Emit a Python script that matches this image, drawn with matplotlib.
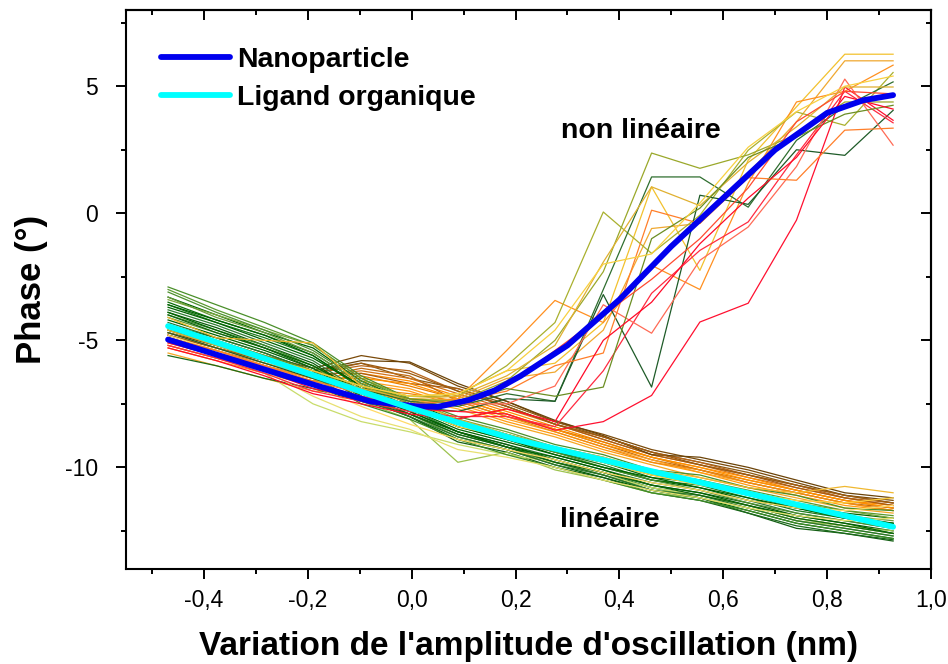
import numpy as np
import matplotlib.pyplot as plt
from matplotlib.ticker import MultipleLocator, FuncFormatter, NullFormatter

plt.rcParams['font.family'] = ['Liberation Sans', 'DejaVu Sans']

# amplitude grid shared by all the individual curves (nm)
amp = [-0.469, -0.376, -0.283, -0.190, -0.097, -0.004, 0.089, 0.183,
       0.276, 0.369, 0.462, 0.555, 0.648, 0.741, 0.834, 0.927]

# linear branch, green curves
green_lines = [
    [-2.9, -3.6, -4.3, -5.1, -6.4, -7.3, -8.0, -8.5, -9.1, -9.5, -10.1, -10.3, -10.8, -11.1, -11.6, -11.7],
    [-3.3, -4.0, -4.7, -5.3, -6.6, -7.4, -8.2, -8.7, -9.2, -9.7, -10.2, -10.5, -11.0, -11.5, -11.8, -12.0],
    [-3.5, -4.2, -4.8, -5.5, -6.7, -7.5, -8.3, -8.8, -9.4, -9.8, -10.4, -10.6, -11.1, -11.6, -11.9, -12.2],
    [-3.6, -4.3, -4.9, -5.6, -6.9, -7.6, -8.4, -8.9, -9.4, -9.9, -10.5, -10.7, -11.2, -11.7, -12.0, -12.2],
    [-3.7, -4.3, -5.0, -5.7, -6.8, -7.7, -8.5, -9.0, -9.5, -10.0, -10.5, -10.8, -11.3, -11.6, -12.0, -12.3],
    [-3.8, -4.4, -5.1, -5.8, -7.0, -7.7, -8.6, -9.1, -9.6, -10.1, -10.6, -10.9, -11.3, -11.8, -12.1, -12.4],
    [-3.9, -4.5, -5.2, -5.9, -7.1, -7.8, -8.6, -9.1, -9.7, -10.2, -10.7, -11.0, -11.4, -11.9, -12.2, -12.5],
    [-4.0, -4.6, -5.2, -6.0, -7.1, -7.9, -8.7, -9.2, -9.7, -10.2, -10.8, -11.1, -11.5, -12.0, -12.3, -12.6],
    [-4.1, -4.7, -5.3, -6.0, -7.2, -7.9, -8.8, -9.3, -9.8, -10.3, -10.8, -11.2, -11.6, -12.1, -12.4, -12.7],
    [-4.2, -4.8, -5.4, -6.1, -7.2, -8.0, -8.9, -9.3, -9.9, -10.4, -10.9, -11.2, -11.7, -12.2, -12.5, -12.8],
    [-4.4, -4.9, -5.5, -6.2, -7.3, -8.0, -9.0, -9.4, -10.0, -10.4, -11.0, -11.3, -11.8, -12.4, -12.6, -12.9],
    [-3.4, -4.0, -4.6, -5.2, -6.5, -7.3, -8.1, -8.6, -9.2, -9.7, -10.3, -10.5, -11.0, -11.4, -11.7, -12.0],
    [-4.5, -5.1, -5.7, -6.5, -7.4, -8.1, -9.8, -9.4, -10.1, -10.5, -11.0, -11.2, -11.6, -12.1, -12.3, -12.5],
    [-4.9, -5.6, -6.3, -7.5, -8.2, -8.6, -9.1, -9.5, -9.8, -10.3, -10.8, -11.1, -11.5, -12.0, -12.3, -12.6],
    [-5.6, -6.0, -6.5, -6.9, -7.4, -7.9, -8.6, -9.2, -9.8, -10.3, -10.9, -11.2, -11.8, -12.3, -12.6, -12.85],
    [-3.1, -3.9, -4.6, -5.4, -6.6, -7.5, -8.3, -8.9, -9.4, -10.0, -10.5, -10.9, -11.4, -11.8, -12.1, -12.4],
    [-3.9, -4.6, -5.3, -6.0, -7.0, -7.8, -8.6, -9.2, -9.6, -10.1, -10.7, -11.0, -11.5, -11.9, -12.2, -12.6],
    [-4.3, -4.9, -5.5, -6.2, -7.3, -8.0, -8.8, -9.3, -9.9, -10.3, -10.9, -11.1, -11.6, -12.1, -12.4, -12.7],
    [-3.0, -3.8, -4.5, -5.2, -6.5, -7.4, -8.1, -8.7, -9.2, -9.6, -10.2, -10.5, -10.9, -11.3, -11.7, -11.9],
    [-3.6, -4.2, -4.8, -5.6, -6.8, -7.6, -8.4, -8.9, -9.5, -10.0, -10.4, -10.8, -11.2, -11.6, -12.0, -12.2],
    [-4.0, -4.7, -5.3, -6.1, -7.2, -7.9, -8.7, -9.2, -9.8, -10.2, -10.7, -11.1, -11.5, -12.0, -12.3, -12.6],
    [-4.6, -5.2, -5.8, -6.4, -7.5, -8.1, -8.9, -9.5, -10.0, -10.5, -11.0, -11.3, -11.7, -12.2, -12.5, -12.8],
    [-3.3, -4.1, -4.7, -5.5, -6.7, -7.5, -8.2, -8.8, -9.3, -9.8, -10.3, -10.6, -11.1, -11.5, -11.9, -12.1],
]
green_colors = ['#4a8f2a', '#006400', '#0a6b0a', '#1d7a1d', '#006400', '#2e7d32',
                '#0b5d0b', '#3b8a2e', '#5c9a34', '#006400', '#145f14', '#7aa83a',
                '#9cc24e', '#c8dc6a', '#1a6a1a', '#4e9030', '#006400', '#2b772b',
                '#5a9a30', '#006400', '#0f660f', '#3d8b27', '#6a9a3a']

# linear branch, orange / brown curves
brown_lines = [
    [-4.6, -5.1, -5.6, -6.1, -5.6, -5.9, -6.8, -7.4, -8.2, -8.7, -9.3, -9.7, -10.1, -10.6, -11.1, -11.3],
    [-4.7, -5.2, -5.7, -6.2, -5.9, -6.5, -6.9, -7.5, -8.2, -8.8, -9.4, -9.8, -10.2, -10.7, -11.1, -11.4],
    [-4.8, -5.3, -5.8, -6.3, -6.0, -6.2, -7.0, -7.6, -8.3, -8.8, -9.4, -9.8, -10.3, -10.7, -11.2, -11.4],
    [-4.9, -5.4, -5.9, -6.4, -6.2, -6.5, -7.1, -7.7, -8.3, -8.9, -9.5, -9.9, -10.4, -10.8, -11.2, -11.5],
    [-5.0, -5.5, -6.0, -6.5, -6.3, -6.6, -7.2, -7.8, -8.4, -9.0, -9.6, -10.0, -10.4, -10.9, -11.3, -11.5],
    [-5.1, -5.6, -6.1, -6.6, -6.4, -6.8, -7.3, -7.9, -8.5, -9.0, -9.6, -10.1, -10.5, -10.9, -11.3, -11.6],
    [-4.9, -5.4, -6.0, -6.5, -6.1, -6.4, -7.4, -8.0, -8.5, -9.1, -9.7, -10.1, -10.6, -11.0, -11.4, -11.6],
    [-5.2, -5.7, -6.2, -6.7, -6.6, -6.9, -7.5, -8.1, -8.6, -9.2, -9.7, -10.2, -10.6, -11.0, -11.4, -11.7],
    [-5.3, -5.8, -6.3, -6.8, -6.7, -7.0, -7.6, -8.2, -8.7, -9.3, -9.8, -10.2, -10.7, -11.1, -11.5, -11.7],
    [-4.8, -5.3, -5.8, -6.3, -6.3, -6.7, -6.9, -7.6, -8.3, -8.9, -9.5, -9.9, -10.3, -10.8, -11.2, -11.5],
    [-5.5, -6.0, -6.5, -7.0, -7.1, -7.3, -7.7, -8.3, -8.8, -9.4, -9.9, -10.4, -10.8, -11.2, -11.6, -11.8],
    [-4.7, -5.2, -5.7, -6.2, -5.8, -5.85, -6.7, -7.4, -8.15, -8.75, -9.5, -9.6, -10.0, -10.5, -11.0, -11.2],
    [-4.8, -5.3, -5.8, -6.3, -5.9, -6.3, -7.0, -7.6, -8.3, -8.8, -9.4, -9.9, -10.3, -10.7, -11.1, -11.4],
    [-5.0, -5.5, -6.0, -6.5, -6.5, -6.7, -7.3, -7.9, -8.5, -9.1, -9.6, -10.0, -10.5, -10.9, -11.3, -11.6],
    [-5.2, -5.7, -6.2, -6.6, -6.9, -7.1, -7.4, -8.0, -8.6, -9.2, -9.8, -10.1, -10.6, -11.0, -11.4, -11.7],
]
brown_colors = ['#7a4a0a', '#8b5a14', '#b8651a', '#d2731a', '#ff8c00', '#e67e00',
                '#c06a10', '#ffa020', '#ff9a10', '#a85c12', '#f5a623', '#6b4308',
                '#9a5a10', '#ff9000', '#f08a10']

# linear branch, yellow curves
yellow_lines = [
    [-4.1, -4.9, -5.0, -5.1, -6.8, -7.4, -8.1, -8.7, -9.2, -9.6, -10.1, -10.4, -10.8, -11.0, -10.75, -11.0],
    [-4.4, -5.0, -5.6, -6.3, -7.0, -7.6, -8.4, -8.8, -9.3, -9.8, -10.3, -10.7, -11.0, -11.3, -11.4, -11.2],
    [-4.8, -5.4, -6.0, -6.8, -7.6, -8.3, -8.9, -9.3, -9.7, -10.2, -10.6, -10.9, -11.3, -11.6, -11.7, -11.5],
    [-5.0, -5.6, -6.2, -7.2, -8.0, -8.5, -9.3, -9.6, -10.0, -10.5, -10.9, -11.2, -11.6, -11.9, -12.1, -12.0],
]
yellow_colors = ['#f0b830', '#ffd040', '#ffd966', '#e8e070']

# non linear branch
nonlin_lines = [
    [-4.5, -5.1, -5.7, -6.2, -6.8, -7.2, -7.1, -6.2, -5.9, -4.3, 1.04, -2.25, 2.09, 4.19, 6.26, 6.26],
    [-4.7, -5.3, -5.9, -6.4, -7.0, -7.4, -7.3, -6.5, -6.25, -4.6, -0.6, -0.4, 1.57, 3.6, 6.0, 6.0],
    [-4.9, -5.4, -6.0, -6.5, -7.1, -7.5, -7.3, -5.4, -3.43, -4.3, -2.05, -3.0, 1.18, 4.38, 4.8, 5.83],
    [-4.4, -5.0, -5.6, -6.2, -6.8, -7.2, -7.2, -6.0, -4.3, 0.05, -1.58, -0.08, 2.48, 3.99, 3.46, 5.54],
    [-4.6, -5.2, -5.8, -6.3, -6.9, -7.3, -7.4, -6.6, -5.0, -2.3, 2.37, 1.77, 2.3, 3.1, 4.38, 4.38],
    [-4.5, -5.1, -5.7, -6.3, -6.9, -7.4, -7.6, -7.1, -7.4, -3.0, 1.43, 1.43, 0.24, 2.87, 4.2, 5.17],
    [-4.7, -5.3, -5.9, -6.5, -7.1, -7.6, -7.8, -7.3, -7.4, -3.2, -6.84, 0.71, 0.35, 2.5, 2.28, 4.05],
    [-5.1, -5.6, -6.2, -6.9, -7.3, -7.7, -7.8, -7.9, -8.54, -8.2, -7.17, -4.28, -3.54, -0.27, 4.97, 3.66],
    [-5.2, -5.7, -6.3, -7.0, -7.4, -7.8, -8.0, -8.0, -8.4, -6.2, -3.15, -1.46, -0.34, 2.3, 4.8, 3.56],
    [-5.0, -5.5, -6.0, -6.7, -7.2, -7.6, -7.5, -7.5, -6.8, -3.6, -4.72, -1.85, -0.54, 1.84, 5.28, 2.68],
    [-4.9, -5.4, -6.0, -6.6, -7.1, -7.5, -7.4, -7.0, -6.0, -5.5, 0.12, -0.4, 1.4, 1.3, 3.27, 3.35],
    [-4.6, -5.2, -5.8, -6.3, -6.9, -7.3, -7.2, -6.4, -5.2, -1.92, 1.04, 0.3, 2.0, 3.4, 4.97, 4.97],
    [-4.4, -5.0, -5.6, -6.2, -6.8, -7.3, -7.5, -6.9, -7.2, -6.84, -1.0, 0.2, 2.2, 3.0, 3.9, 4.25],
    [-5.3, -5.8, -6.4, -7.1, -7.5, -7.9, -8.1, -7.7, -8.2, -5.0, -3.5, -1.2, 0.6, 2.2, 4.6, 4.1],
    [-5.0, -5.5, -6.1, -6.8, -7.2, -7.6, -7.5, -6.8, -5.4, -4.0, -2.6, -1.0, 1.0, 3.6, 4.8, 4.7],
    [-4.5, -5.1, -5.7, -6.2, -6.8, -7.2, -7.1, -6.2, -4.6, -2.0, -1.6, 0.4, 2.6, 4.0, 5.0, 5.4],
]
nonlin_colors = ['#f2c12e', '#f0a830', '#ff9020', '#a9b02e', '#9aa82a', '#2f6e2f',
                 '#1e5b28', '#ff1030', '#ff2a40', '#ff6a55', '#ff7f2a', '#e0b030',
                 '#6b8e23', '#ff0a28', '#ff4a30', '#f8d040']

# mean curves
nano_x = [-0.469, -0.37, -0.275, -0.18, -0.08, 0.01, 0.05, 0.11, 0.16, 0.21,
          0.30, 0.40, 0.45, 0.50, 0.60, 0.70, 0.80, 0.87, 0.927]
nano_y = [-4.97, -5.6, -6.2, -6.8, -7.4, -7.6, -7.62, -7.35, -6.97, -6.4,
          -5.2, -3.4, -2.35, -1.3, 0.6, 2.5, 3.95, 4.45, 4.65]
lig_x = [-0.469, -0.3, -0.2, -0.1, 0.0, 0.1, 0.2, 0.3, 0.4, 0.5, 0.6, 0.7, 0.8, 0.927]
lig_y = [-4.44, -5.6, -6.3, -7.0, -7.68, -8.3, -8.9, -9.38, -9.86, -10.33,
         -10.8, -11.27, -11.74, -12.34]

fig = plt.figure(figsize=(9.48, 6.64), dpi=100)
ax = fig.add_axes([126 / 948, 1 - 569 / 664, (931 - 126) / 948, (569 - 10) / 664])

for ys, c in zip(brown_lines, brown_colors):
    ax.plot(amp, ys, color=c, lw=0.9)
for ys, c in zip(green_lines, green_colors):
    ax.plot(amp, ys, color=c, lw=0.9)
for ys, c in zip(yellow_lines, yellow_colors):
    ax.plot(amp, ys, color=c, lw=0.9)
for ys, c in zip(nonlin_lines, nonlin_colors):
    ax.plot(amp, ys, color=c, lw=0.9)

ax.plot(nano_x, nano_y, color='#0000ee', lw=4.2, solid_capstyle='round', label='Nanoparticle')
ax.plot(lig_x, lig_y, color='#00ffff', lw=4.2, solid_capstyle='round', label='Ligand organique')

ax.text(0.441, 2.95, 'non linéaire', fontsize=20.5, fontweight='bold', ha='center', va='baseline')
ax.text(0.381, -12.36, 'linéaire', fontsize=20.5, fontweight='bold', ha='center', va='baseline')

leg = ax.legend(loc='upper left', bbox_to_anchor=(0.043, 0.934), frameon=False,
                prop={'weight': 'bold', 'size': 20.5}, handlelength=2.42,
                handletextpad=0.25, labelspacing=0.42, borderpad=0, borderaxespad=0)

ax.set_xlim(-0.55, 1.0)
ax.set_ylim(-14, 8)


def comma(v, pos):
    if abs(v) < 1e-9:
        v = 0.0
    return f'{v:.1f}'.replace('.', ',')


ax.xaxis.set_major_locator(MultipleLocator(0.2))
ax.xaxis.set_minor_locator(MultipleLocator(0.1))
ax.xaxis.set_major_formatter(FuncFormatter(comma))
ax.yaxis.set_major_locator(MultipleLocator(5))
ax.yaxis.set_minor_locator(MultipleLocator(2.5))
ax.yaxis.set_major_formatter(FuncFormatter(lambda v, p: f'{int(round(v))}'))
ax.tick_params(which='both', direction='out', width=1.4, labelsize=16.5)
ax.tick_params(which='major', length=7.2)
ax.tick_params(which='minor', length=3.6)
ax.tick_params(axis='x', pad=7)
ax.tick_params(axis='y', pad=13)

top = ax.secondary_xaxis('top')
top.xaxis.set_major_locator(MultipleLocator(0.2))
top.xaxis.set_minor_locator(MultipleLocator(0.1))
top.xaxis.set_major_formatter(NullFormatter())
top.tick_params(which='both', direction='in', width=1.4)
top.tick_params(which='major', length=7.2)
top.tick_params(which='minor', length=3.6)

right = ax.secondary_yaxis('right')
right.yaxis.set_major_locator(MultipleLocator(5))
right.yaxis.set_minor_locator(MultipleLocator(2.5))
right.yaxis.set_major_formatter(NullFormatter())
right.tick_params(which='both', direction='in', width=1.4)
right.tick_params(which='major', length=7.2)
right.tick_params(which='minor', length=3.6)

for sp in ax.spines.values():
    sp.set_linewidth(1.5)
top.spines['top'].set_linewidth(1.5)
right.spines['right'].set_linewidth(1.5)

ax.set_xlabel("Variation de l'amplitude d'oscillation (nm)", fontsize=24, fontweight='bold', labelpad=14)
ax.set_ylabel('Phase (°)', fontsize=25, fontweight='bold', labelpad=12)

fig.savefig('out.png', dpi=100)
